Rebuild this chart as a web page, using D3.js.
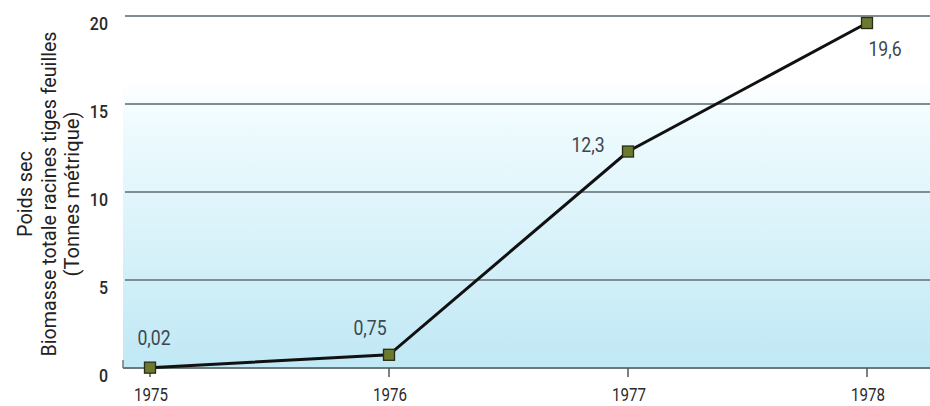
<!DOCTYPE html>
<html>
<head>
<meta charset="utf-8">
<script src="https://cdn.jsdelivr.net/npm/d3@7"></script>
<style>
  body { margin: 0; background: #fff; }
  text { font-family: Roboto, "DejaVu Sans", sans-serif; }
</style>
</head>
<body>
<svg id="chart" width="930" height="406"></svg>
<script>
// data
const years = [1975, 1976, 1977, 1978];
const biomass = [0.02, 0.75, 12.3, 19.6];
const valueLabels = ['0,02', '0,75', '12,3', '19,6'];
const yTicks = [0, 5, 10, 15, 20];
const yTitle = ['Poids sec', 'Biomasse totale racines tiges feuilles', '(Tonnes métrique)'];

const svg = d3.select('#chart');
const plotLeft = 123, plotRight = 930, plotBottom = 368;
const squeeze = 0.84; // narrow lettering like the original

const x = d3.scaleLinear().domain([1975, 1978]).range([150, 867]);
const y = d3.scaleLinear().domain([0, 20]).range([plotBottom, 16]);

// background gradient
const defs = svg.append('defs');
const grad = defs.append('linearGradient')
  .attr('id', 'bg').attr('x1', 0).attr('y1', 0).attr('x2', 0).attr('y2', 1);
grad.append('stop').attr('offset', '0%').attr('stop-color', '#ffffff');
grad.append('stop').attr('offset', '18%').attr('stop-color', '#ffffff');
grad.append('stop').attr('offset', '30%').attr('stop-color', '#effbfe');
grad.append('stop').attr('offset', '100%').attr('stop-color', '#c0e8f5');

svg.append('rect')
  .attr('x', plotLeft).attr('y', y(20))
  .attr('width', plotRight - plotLeft).attr('height', plotBottom - y(20))
  .attr('fill', 'url(#bg)');

// gridlines
svg.append('g').selectAll('line')
  .data(yTicks.filter(d => d > 0))
  .enter().append('line')
  .attr('x1', plotLeft + 2).attr('x2', plotRight)
  .attr('y1', d => y(d)).attr('y2', d => y(d))
  .attr('stroke', '#7f8c91')
  .attr('stroke-width', 2);

// baseline + little left tick
svg.append('line')
  .attr('x1', plotLeft).attr('x2', plotRight)
  .attr('y1', plotBottom).attr('y2', plotBottom)
  .attr('stroke', '#6c787c').attr('stroke-width', 2);
svg.append('line')
  .attr('x1', plotLeft).attr('x2', plotLeft)
  .attr('y1', plotBottom - 8).attr('y2', plotBottom)
  .attr('stroke', '#6c787c').attr('stroke-width', 1.5);

// y tick labels
svg.append('g').selectAll('text')
  .data(yTicks)
  .enter().append('text')
  .attr('transform', d => `translate(108, ${y(d) + 14}) scale(${squeeze}, 1)`)
  .attr('text-anchor', 'end')
  .attr('font-size', 19)
  .attr('font-weight', 500)
  .attr('fill', '#2a2a2a')
  .text(d => d);

// x ticks
const xg = svg.append('g');
xg.selectAll('line')
  .data(years)
  .enter().append('line')
  .attr('x1', d => x(d)).attr('x2', d => x(d))
  .attr('y1', plotBottom).attr('y2', plotBottom + 9)
  .attr('stroke', '#555').attr('stroke-width', 1.5);
xg.selectAll('text')
  .data(years)
  .enter().append('text')
  .attr('transform', d => `translate(${x(d) + 1}, ${plotBottom + 33}) scale(${squeeze}, 1)`)
  .attr('text-anchor', 'middle')
  .attr('font-size', 18)
  .attr('fill', '#2a2a2a')
  .text(d => d);

// y title, three rotated lines
const titleLengths = [86, 325, 165];
svg.append('g').selectAll('text')
  .data(yTitle)
  .enter().append('text')
  .attr('transform', (d, i) => `translate(${32 + i * 23.5}, 194) rotate(-90)`)
  .attr('text-anchor', 'middle')
  .attr('font-size', 20)
  .attr('fill', '#222')
  .attr('textLength', (d, i) => titleLengths[i])
  .attr('lengthAdjust', 'spacingAndGlyphs')
  .text(d => d);

// line
const pts = years.map((yr, i) => ({ yr: yr, v: biomass[i], label: valueLabels[i] }));
svg.append('path')
  .datum(pts)
  .attr('fill', 'none')
  .attr('stroke', '#111')
  .attr('stroke-width', 3)
  .attr('d', d3.line().x(d => x(d.yr)).y(d => y(d.v)));

// markers
svg.append('g').selectAll('rect')
  .data(pts)
  .enter().append('rect')
  .attr('x', d => x(d.yr) - 5.5)
  .attr('y', d => y(d.v) - 5.5)
  .attr('width', 11).attr('height', 11)
  .attr('fill', '#6a7a30')
  .attr('stroke', '#2b2c12')
  .attr('stroke-width', 1.3);

// value labels
const labelOffsets = [[4, -23], [-19, -20], [-40, 0], [18, 33]];
svg.append('g').selectAll('text')
  .data(pts)
  .enter().append('text')
  .attr('transform', (d, i) =>
    `translate(${x(d.yr) + labelOffsets[i][0]}, ${y(d.v) + labelOffsets[i][1]}) scale(${squeeze}, 1)`)
  .attr('text-anchor', 'middle')
  .attr('font-size', 21)
  .attr('fill', '#3b4850')
  .text(d => d.label);
</script>
</body>
</html>
